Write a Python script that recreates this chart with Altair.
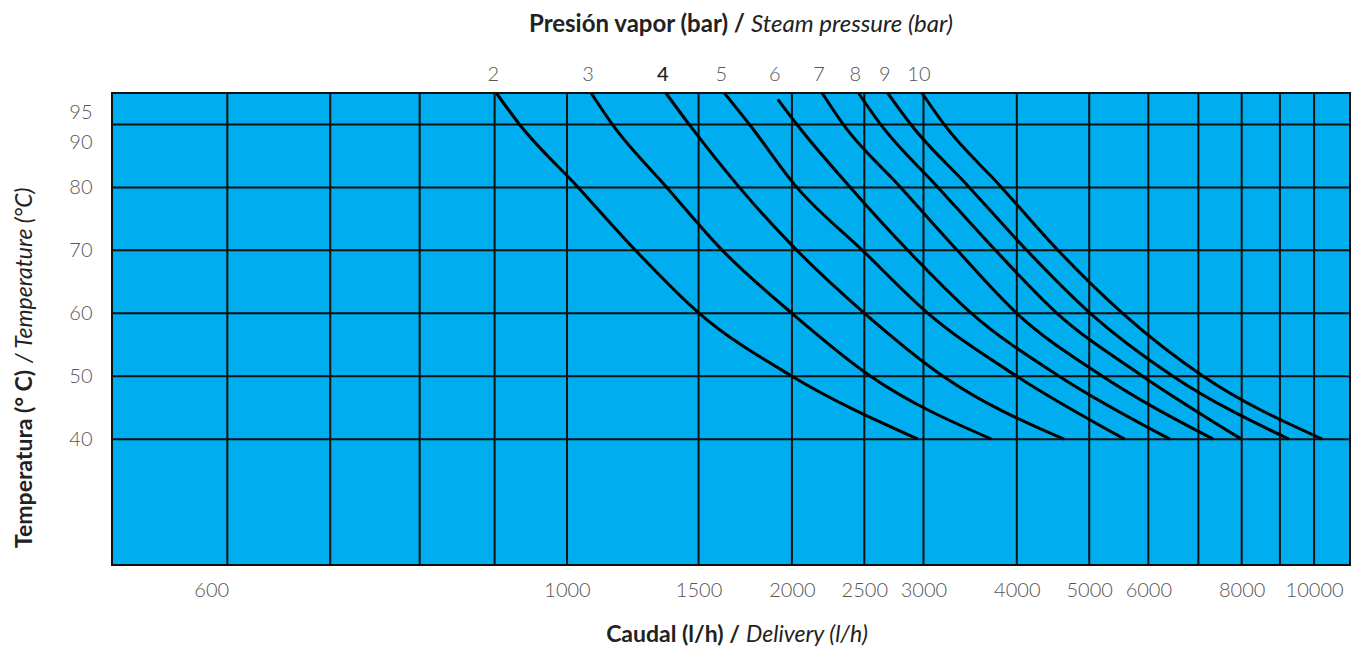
import altair as alt
import pandas as pd

# ---- data ----
temps = [95, 90, 80, 70, 60, 50, 40]
temps_6 = [94, 90, 80, 70, 60, 50, 40]   # curve 6 starts just below the top
pressures = [2, 3, 4, 5, 6, 7, 8, 9, 10]
flow_2 = [804, 864, 1035, 1235, 1503, 2000, 2950]
flow_3 = [1077, 1150, 1360, 1614, 2000, 2549, 3700]
flow_4 = [1356, 1457, 1701, 2031, 2502, 3187, 4628]
flow_5 = [1624, 1755, 2031, 2486, 3042, 3999, 5577]
flow_6 = [1915, 2031, 2395, 2859, 3478, 4557, 6413]
flow_7 = [2195, 2343, 2797, 3330, 3999, 5209, 7329]
flow_8 = [2455, 2629, 3138, 3746, 4528, 5896, 7995]
flow_9 = [2687, 2886, 3456, 4125, 5017, 6473, 9253]
flow_10 = [2986, 3197, 3817, 4542, 5542, 7105, 10252]

grid_x = [351, 482, 635, 800, 1000, 1500, 2000, 2500, 3000, 4000, 5000, 6000, 7000, 8000, 9000, 10000]
grid_y = [90, 80, 70, 60, 50, 40]

x_tick_values = [334, 1000, 1500, 2000, 2500, 3000, 4000, 5000, 6000, 8000, 10000]
y_tick_values = [40, 50, 60, 70, 80, 87.1, 91.9]

flows = [flow_2, flow_3, flow_4, flow_5, flow_6, flow_7, flow_8, flow_9, flow_10]

rows = []
for p, fl in zip(pressures, flows):
    ts = temps_6 if p == 6 else temps
    for t, f in zip(ts, fl):
        rows.append({"p": p, "flow": f, "temp": t})
df = pd.DataFrame(rows)

starts = pd.DataFrame({
    "p": pressures,
    "label": [str(p) for p in pressures],
    "flow": [fl[0] for fl in flows],
})

gx = pd.DataFrame({"v": grid_x})
gy = pd.DataFrame({"v": grid_y})

W, H = 1238, 472
FONT = "Lato"
LBL = 20

x_scale = alt.Scale(type="log", domain=[246, 11170], nice=False)
y_scale = alt.Scale(domain=[20, 95], nice=False, zero=False)

x_axis = alt.Axis(
    values=x_tick_values,
    labelExpr="datum.value < 500 ? '600' : format(datum.value, 'd')",
    ticks=False, domain=False, grid=False, title=None,
    labelPadding=15, labelFontSize=LBL, labelColor="#555", labelFont=FONT,
    labelFontWeight=300, labelFlush=False, labelOverlap=False)
y_axis = alt.Axis(
    values=y_tick_values,
    labelExpr="datum.value > 91 ? '95' : (datum.value > 86 ? '90' : format(datum.value, 'd'))",
    ticks=False, domain=False, grid=False, title=None,
    labelPadding=20, labelFontSize=LBL, labelColor="#555", labelFont=FONT,
    labelFontWeight=300, labelOverlap=False)

vgrid = alt.Chart(gx).mark_rule(color="#111", strokeWidth=2).encode(
    x=alt.X("v:Q", scale=x_scale, axis=x_axis)
)
hgrid = alt.Chart(gy).mark_rule(color="#111", strokeWidth=2).encode(
    y=alt.Y("v:Q", scale=y_scale, axis=y_axis)
)

curves = alt.Chart(df).mark_line(color="#000", strokeWidth=3, interpolate="monotone").encode(
    x=alt.X("flow:Q", scale=x_scale, axis=x_axis),
    y=alt.Y("temp:Q", scale=y_scale, axis=y_axis),
    detail="p:N",
)

top_light = alt.Chart(starts).transform_filter("datum.p != 4").mark_text(
    fontSize=LBL, font=FONT, fontWeight=300, color="#555",
    baseline="middle", align="center", dx=-3
).encode(
    x=alt.X("flow:Q", scale=x_scale, axis=x_axis),
    y=alt.value(-18),
    text="label:N",
)
top_bold = alt.Chart(starts).transform_filter("datum.p == 4").mark_text(
    fontSize=LBL, font=FONT, fontWeight=500, color="#222",
    baseline="middle", align="center", dx=-3
).encode(
    x=alt.X("flow:Q", scale=x_scale, axis=x_axis),
    y=alt.value(-18),
    text="label:N",
)

def txt(s, x, y, align, weight, style, size, angle=0):
    mk = dict(text=s, font=FONT, fontSize=size, fontWeight=weight, fontStyle=style,
              align=align, baseline="middle", color="#222")
    if angle:
        mk["angle"] = angle
    return alt.Chart(pd.DataFrame({"a": [0]})).mark_text(**mk).encode(
        x=alt.value(x), y=alt.value(y))

titles = [
    txt("Presión vapor (bar) /", 633, -68, "right", "bold", "normal", 24),
    txt("Steam pressure (bar)", 639, -68, "left", "normal", "italic", 24),
    txt("Caudal (l/h) /", 628, 542, "right", "bold", "normal", 23),
    txt("Delivery (l/h)", 634, 542, "left", "normal", "italic", 23),
    txt("Temperatura (° C)", -87, 455, "left", "bold", "normal", 23, angle=270),
    txt("/ Temperature (°C)", -87, 270, "left", "normal", "italic", 23, angle=270),
]

chart = alt.layer(vgrid, hgrid, curves, top_light, top_bold, *titles).properties(
    width=W, height=H,
    autosize=alt.AutoSizeParams(type="none"),
    padding={"left": 104, "top": 85, "right": 5, "bottom": 82},
    background="white",
).configure_view(fill="#00adee", stroke="#111", strokeWidth=2)

chart.save("out.html", embed_options={"renderer": "svg", "actions": False})
